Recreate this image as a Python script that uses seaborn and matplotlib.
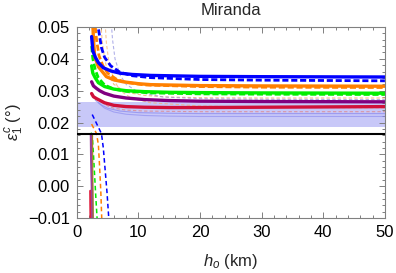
import numpy as np
import pandas as pd
import matplotlib
matplotlib.use('Agg')
import matplotlib.pyplot as plt
from matplotlib.ticker import MultipleLocator
import seaborn as sns

# curvas principales (ramas superiores)
h_azul = [2.4, 2.6, 3.0, 3.5, 4.3, 5.5, 7, 9, 12, 20, 30, 50]
e_azul = [0.047, 0.0425, 0.0405, 0.0388, 0.0372, 0.0362, 0.0355, 0.0351, 0.0348, 0.0345, 0.0344, 0.0343]
h_azul_d = [3.3, 3.5, 4.0, 4.5, 5.5, 7, 9, 12, 20, 30, 50]
e_azul_d = [0.052, 0.0495, 0.0435, 0.0405, 0.0378, 0.0358, 0.0347, 0.0341, 0.0335, 0.0333, 0.0331]
h_naranja = [2.6, 2.7, 2.9, 3.5, 4.8, 6, 7.5, 10, 12, 20, 30, 50]
e_naranja = [0.051, 0.046, 0.0407, 0.0375, 0.0344, 0.0334, 0.0328, 0.0322, 0.0319, 0.0316, 0.0315, 0.0314]
h_naranja_d = [3.0, 3.2, 3.6, 4.2, 5, 6.5, 8, 11, 20, 30, 50]
e_naranja_d = [0.050, 0.046, 0.041, 0.038, 0.0355, 0.0335, 0.0326, 0.0318, 0.0313, 0.0311, 0.0310]
h_verde = [2.4, 2.6, 3, 3.5, 4.5, 6, 8, 11, 15, 20, 30, 50]
e_verde = [0.0378, 0.0355, 0.034, 0.0325, 0.0313, 0.0305, 0.0300, 0.0297, 0.0295, 0.0294, 0.0293, 0.0292]
h_verde_d = [2.4, 2.6, 3, 3.5, 4.5, 6, 8, 12, 20, 30, 50]
e_verde_d = [0.044, 0.040, 0.0365, 0.034, 0.0318, 0.0305, 0.0298, 0.0293, 0.0290, 0.0289, 0.0288]
h_morado = [2.4, 2.7, 3.2, 3.7, 4.5, 6, 8, 11, 15, 20, 30, 50]
e_morado = [0.0328, 0.0315, 0.0307, 0.0300, 0.0292, 0.0283, 0.0277, 0.0272, 0.0269, 0.0267, 0.0266, 0.0265]
h_rojo = [2.4, 2.7, 3.2, 3.7, 4.5, 6, 8, 11, 15, 20, 30, 50]
e_rojo = [0.0291, 0.0281, 0.0275, 0.0270, 0.0262, 0.0254, 0.0250, 0.0248, 0.0247, 0.0247, 0.0248, 0.0250]

# curvas finas y tenues
h_fina_nar = [3.9, 4.1, 4.5, 5, 6, 8, 11, 15, 20, 30, 50]
e_fina_nar = [0.051, 0.046, 0.040, 0.036, 0.032, 0.0295, 0.0285, 0.0280, 0.0278, 0.0277, 0.0277]
h_fina_nar2 = [4.6, 4.8, 5.2, 6, 7, 9, 12, 20, 30, 50]
e_fina_nar2 = [0.051, 0.045, 0.039, 0.0335, 0.030, 0.0275, 0.0262, 0.0252, 0.0248, 0.0246]
h_fina_azul = [5.6, 5.8, 6.2, 7, 8, 10, 14, 20, 30, 50]
e_fina_azul = [0.051, 0.046, 0.040, 0.035, 0.032, 0.0295, 0.0280, 0.0275, 0.0273, 0.0272]
h_fina_celeste = [3, 4, 5, 7, 10, 15, 20, 30, 50]
e_fina_celeste = [0.027, 0.0255, 0.0245, 0.0236, 0.0231, 0.0229, 0.0228, 0.0228, 0.0228]
h_fina_celeste2 = [3.5, 4.5, 6, 8, 11, 15, 20, 30, 50]
e_fina_celeste2 = [0.0262, 0.0245, 0.0233, 0.0226, 0.0222, 0.0220, 0.0219, 0.0219, 0.0219]
h_fina_rosa = [4, 5, 6, 8, 11, 15, 20, 30, 50]
e_fina_rosa = [0.0265, 0.0252, 0.0245, 0.0239, 0.0236, 0.0235, 0.0234, 0.0234, 0.0234]

# ramas inferiores
h_azul_inf = [2.5, 3.0, 3.5, 4.0, 4.3, 4.6, 4.9, 5.2]
e_azul_inf = [0.0225, 0.0205, 0.0185, 0.0165, 0.012, 0.005, -0.002, -0.0105]
h_nar_inf = [2.4, 2.8, 3.2, 3.5, 3.7, 3.9, 4.05]
e_nar_inf = [0.0195, 0.018, 0.0165, 0.013, 0.006, -0.002, -0.0105]
h_verde_inf = [2.3, 2.5, 2.7, 2.9, 3.1, 3.3]
e_verde_inf = [0.0168, 0.016, 0.010, 0.003, -0.004, -0.0105]
h_morado_inf = [2.3, 2.35, 2.45, 2.55]
e_morado_inf = [0.0162, 0.008, 0.0, -0.0105]
h_rojo_inf = [2.2, 2.22, 2.25]
e_rojo_inf = [-0.0015, -0.006, -0.0105]
h_oliva_inf = [2.55, 2.6, 2.65]
e_oliva_inf = [0.016, 0.003, -0.0105]

linea_negra = 0.0163
banda = [0.0186, 0.0264]

sns.set_style('ticks')
plt.rcParams['font.family'] = ['Liberation Sans', 'DejaVu Sans']
plt.rcParams['mathtext.fontset'] = 'custom'
plt.rcParams['mathtext.it'] = 'Liberation Sans:italic'
plt.rcParams['mathtext.rm'] = 'Liberation Sans'

fig = plt.figure(figsize=(3.96, 2.73), dpi=100)
ax = fig.add_axes([0.194, 0.2015, 0.778, 0.6995])

ax.axhspan(banda[0], banda[1], color='#c8c8f8', zorder=0, lw=0)

def curva(h, e, color, lw, ls='-', alpha=1.0, z=2):
    kw = dict(linestyle=ls)
    if ls == '--':
        kw = dict(dashes=(2.2, 1.0) if lw >= 1.5 else (3, 2))
    sns.lineplot(x=h, y=e, ax=ax, color=color, lw=lw, alpha=alpha,
                 sort=False, estimator=None, zorder=z, **kw)

# finas
curva(h_fina_nar, e_fina_nar, '#f5b070', 0.8, '--', 0.8, 1)
curva(h_fina_nar2, e_fina_nar2, '#f5b070', 0.8, '--', 0.7, 1)
curva(h_fina_azul, e_fina_azul, '#9090e0', 0.8, '--', 0.7, 1)
curva(h_fina_celeste, e_fina_celeste, '#8888ee', 0.8, '-', 0.7, 1)
curva(h_fina_celeste2, e_fina_celeste2, '#8888ee', 0.8, '-', 0.6, 1)
curva(h_fina_rosa, e_fina_rosa, '#e08080', 0.8, '--', 0.7, 1)

# principales
curva(h_rojo, e_rojo, '#d0103a', 2.4)
curva(h_morado, e_morado, '#800080', 2.4)
curva(h_verde, e_verde, '#00ee00', 2.4)
curva(h_verde_d, e_verde_d, '#00ee00', 2.0, '--')
curva(h_naranja, e_naranja, '#ff8000', 2.4)
curva(h_naranja_d, e_naranja_d, '#ff8000', 2.0, '--')
curva(h_azul, e_azul, '#0000ff', 2.4)
curva(h_azul_d, e_azul_d, '#0000ff', 2.0, '--')

# ramas inferiores
curva(h_azul_inf, e_azul_inf, '#0000ff', 1.1, '--')
curva(h_nar_inf, e_nar_inf, '#ff8000', 1.1, '--')
curva(h_verde_inf, e_verde_inf, '#00ee00', 1.1, '--')
curva(h_rojo_inf, e_rojo_inf, '#e02040', 1.8)
curva(h_morado_inf, e_morado_inf, '#9a409a', 1.8)
curva(h_oliva_inf, e_oliva_inf, '#a08020', 0.8)

ax.axhline(linea_negra, color='black', lw=1.5, zorder=3)

ax.set_xlim(0, 50)
ax.set_ylim(-0.01, 0.05)
ax.xaxis.set_major_locator(MultipleLocator(10))
ax.xaxis.set_minor_locator(MultipleLocator(2))
ax.yaxis.set_major_locator(MultipleLocator(0.01))
ax.yaxis.set_minor_locator(MultipleLocator(0.002))
ax.yaxis.set_major_formatter(matplotlib.ticker.FuncFormatter(
    lambda v, p: ('\u2212' if v < -1e-9 else '') + f'{abs(v):.2f}'))
ax.tick_params(which='both', direction='in', top=True, right=True, colors='#808080',
               labelcolor='black', labelsize=12, width=0.7)
ax.tick_params(which='major', length=4.5, pad=5)
ax.tick_params(which='minor', length=2.5)
for s in ax.spines.values():
    s.set_color('#808080')
    s.set_linewidth(0.8)

ax.set_title('Miranda', fontsize=12, pad=9)
ax.set_xlabel(r'$h_o$ (km)', fontsize=12, labelpad=9)
ax.set_ylabel(r'$\epsilon_1^c$ (°)', fontsize=12, labelpad=1)

fig.savefig('out.png', dpi=100)
